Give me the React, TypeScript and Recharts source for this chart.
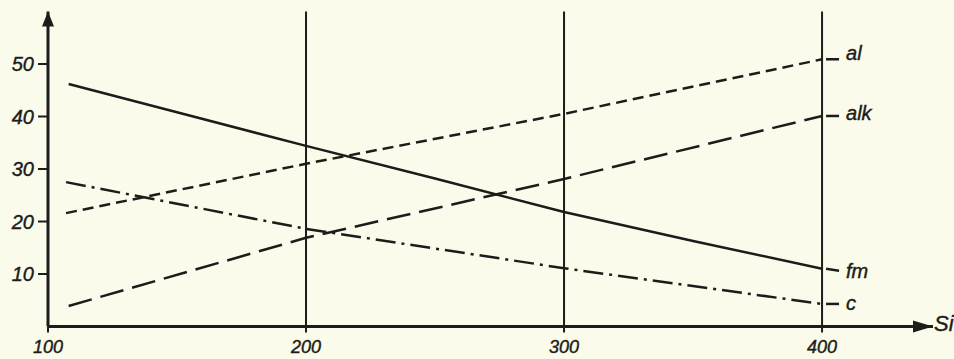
import { LineChart, Line, XAxis, YAxis, ReferenceLine, ReferenceDot, LabelList } from 'recharts';

// Niggli values vs Si
const siTicks = [100, 200, 300, 400];
const valueTicks = [10, 20, 30, 40, 50];
const gridSi = [200, 300, 400];

const alSi = [107, 200, 300, 400];
const alValues = [21.6, 31.0, 40.5, 50.9];

const alkSi = [108, 200, 300, 400];
const alkValues = [3.9, 16.9, 28.1, 40.1];

const fmSi = [108, 150, 200, 250, 300, 350, 400];
const fmValues = [46.2, 40.8, 34.4, 28.2, 21.8, 16.3, 11.0];

const cSi = [107, 200, 300, 400];
const cValues = [27.5, 18.6, 11.1, 4.3];

const ink = '#1c1c1a';
const paper = '#fbfbec';
const font = '"Liberation Sans", Arial, sans-serif';

const toPoints = (si: number[], values: number[]) => si.map((x, i) => ({ si: x, v: values[i] }));

const series = [
  { name: 'al', data: toPoints(alSi, alValues), dash: '11 6', dy: 1 },
  { name: 'alk', data: toPoints(alkSi, alkValues), dash: '24 9', dy: 4 },
  { name: 'fm', data: toPoints(fmSi, fmValues), dash: undefined, dy: 9 },
  { name: 'c', data: toPoints(cSi, cValues), dash: '20 6 3 6', dy: 6 },
];

const textStyle = { fill: ink, stroke: ink, strokeWidth: 0.4, fontFamily: font, fontStyle: 'italic' };

const endLabel = (name: string, last: number, dy: number) => (props: any) => {
  if (props.index !== last) return null;
  const x = Number(props.x);
  const y = Number(props.y);
  return (
    <g>
      <line x1={x + 4} y1={y} x2={x + 17} y2={y + (name === 'fm' ? 2 : 0)} stroke={ink} strokeWidth={2.5} />
      <text x={x + 24} y={y + dy} {...textStyle} fontSize={20}>
        {name}
      </text>
    </g>
  );
};

const xArrow = (props: any) => (
  <g>
    <polygon points={`${props.cx},${props.cy} ${props.cx - 20},${props.cy - 6} ${props.cx - 20},${props.cy + 6}`} fill={ink} />
    <text x={props.cx + 1} y={props.cy + 4} {...textStyle} fontSize={22}>
      Si
    </text>
  </g>
);

const yArrow = (props: any) => (
  <polygon points={`${props.cx},${props.cy} ${props.cx - 6},${props.cy + 15} ${props.cx + 6},${props.cy + 15}`} fill={ink} />
);

export default function App() {
  return (
    <div style={{ position: 'absolute', left: 0, top: 0, width: 954, height: 359, background: paper }}>
      <LineChart width={954} height={359} margin={{ top: 11.5, right: 21, bottom: 0, left: 0 }}>
        <XAxis
          type="number"
          dataKey="si"
          domain={[100, 443]}
          ticks={siTicks}
          height={32.5}
          axisLine={{ stroke: ink, strokeWidth: 3 }}
          tickLine={{ stroke: ink, strokeWidth: 2 }}
          tickSize={6}
          tickMargin={8}
          tick={{ ...textStyle, fontSize: 18 }}
          allowDataOverflow
        />
        <YAxis
          type="number"
          dataKey="v"
          domain={[0, 60]}
          ticks={valueTicks}
          width={48}
          axisLine={{ stroke: ink, strokeWidth: 3 }}
          tickLine={{ stroke: ink, strokeWidth: 2 }}
          tickSize={10}
          tickMargin={4}
          tick={{ ...textStyle, fontSize: 20 }}
          allowDataOverflow
        />
        {gridSi.map((s) => (
          <ReferenceLine key={s} x={s} stroke={ink} strokeWidth={2} />
        ))}
        {series.map((s) => (
          <Line
            key={s.name}
            data={s.data}
            dataKey="v"
            type="linear"
            stroke={ink}
            strokeWidth={2.5}
            strokeDasharray={s.dash}
            dot={false}
            activeDot={false}
            isAnimationActive={false}
          >
            <LabelList dataKey="v" content={endLabel(s.name, s.data.length - 1, s.dy)} />
          </Line>
        ))}
        <ReferenceDot x={443} y={0} r={0} shape={xArrow} />
        <ReferenceDot x={100} y={60} r={0} shape={yArrow} />
      </LineChart>
    </div>
  );
}
